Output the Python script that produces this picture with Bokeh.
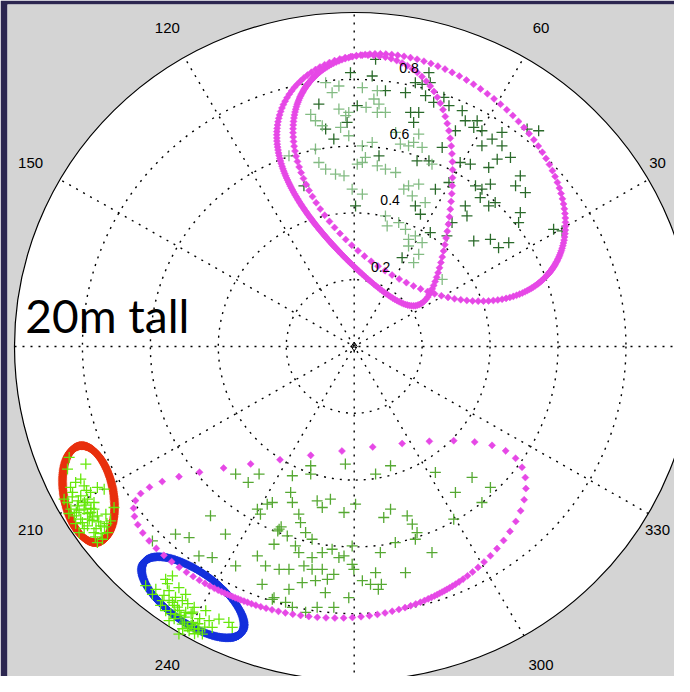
import numpy as np
from bokeh.plotting import figure
from bokeh.models import Range1d
from bokeh.embed import file_html
from bokeh.resources import INLINE
from bokeh.core.properties import value

# ---------------- data (unit-circle coordinates of the polar plot) ----------------
# top cluster, dark green crosses
dark_x = [0.063, -0.011, 0.053, 0.092, 0.151, 0.180, 0.200, 0.224, 0.220, 0.210, 0.234, 0.264, 0.279, 0.318,
          -0.104, 0.009, 0.166, 0.190, 0.175, 0.327, 0.362, 0.352, 0.376, 0.298, 0.406, 0.435, 0.376, 0.435,
          0.259, -0.084, -0.060, -0.021, 0.073, 0.185, 0.220, 0.312, 0.342, 0.421, 0.460, 0.396, 0.279, 0.239,
          -0.148, 0.004, 0.180, 0.195, 0.357, 0.401, 0.396, 0.415, 0.371, 0.475, 0.504, 0.489, 0.327, 0.332,
          0.489, 0.484, 0.224, 0.273, 0.352, 0.401, 0.425, 0.455, 0.587, 0.612, 0.141, 0.509, 0.543, 0.376, 0.288]
dark_y = [0.860, 0.820, 0.810, 0.766, 0.760, 0.790, 0.785, 0.790, 0.820, 0.751, 0.731, 0.746, 0.721, 0.706,
          0.726, 0.721, 0.701, 0.701, 0.671, 0.676, 0.676, 0.656, 0.646, 0.646, 0.621, 0.641, 0.601, 0.601,
          0.596, 0.651, 0.621, 0.671, 0.571, 0.556, 0.556, 0.551, 0.546, 0.561, 0.566, 0.536, 0.491, 0.471,
          0.481, 0.421, 0.421, 0.396, 0.481, 0.486, 0.421, 0.431, 0.446, 0.481, 0.461, 0.511, 0.421, 0.391,
          0.401, 0.371, 0.341, 0.331, 0.316, 0.321, 0.296, 0.311, 0.351, 0.346, 0.266, 0.651, 0.646, 0.471, 0.371]

# top cluster, light green crosses
light_x = [-0.084, -0.045, 0.024, 0.068, -0.128, -0.045, -0.016, 0.035, 0.068, 0.092, 0.058, 0.073, 0.190,
           0.175, 0.136, 0.160, 0.200, -0.016, -0.040, -0.114, -0.114, -0.104, -0.084, -0.055, -0.030, 0.024,
           0.053, 0.024, 0.068, 0.092, 0.122, 0.229, -0.006, 0.024, 0.160, 0.171, 0.209, 0.092, 0.097, 0.131,
           0.151, 0.160, 0.180, 0.200, 0.160, 0.175, 0.190, 0.259, -0.192, 0.009, 0.033, -0.094, -0.025, 0.146,
           0.190, 0.122, -0.065]
light_y = [0.790, 0.780, 0.775, 0.766, 0.695, 0.711, 0.701, 0.716, 0.701, 0.701, 0.741, 0.726, 0.636,
           0.611, 0.606, 0.601, 0.596, 0.631, 0.656, 0.676, 0.591, 0.551, 0.531, 0.516, 0.511, 0.601,
           0.611, 0.551, 0.541, 0.531, 0.521, 0.546, 0.471, 0.456, 0.481, 0.451, 0.431, 0.391, 0.361, 0.371,
           0.351, 0.321, 0.331, 0.311, 0.301, 0.251, 0.276, 0.201, 0.571, 0.546, 0.566, 0.661, 0.691, 0.471,
           0.486, 0.641, 0.760]

# lower cluster, green crosses
low_x = [-0.349, -0.312, -0.280, -0.423, -0.526, -0.486, -0.594, -0.379, -0.457, -0.418, -0.349, -0.285,
         -0.276, -0.256, -0.285, -0.271, -0.261, -0.241, -0.128, -0.182, -0.128, -0.026, 0.107, 0.063, 0.239,
         0.347, 0.401, 0.298, 0.376, 0.293, -0.187, -0.241, -0.182, -0.109, -0.070, -0.094, 0.004, -0.030,
         -0.163, -0.158, 0.107, 0.087, 0.156, 0.171, 0.185, 0.180, -0.221, -0.215, -0.225, -0.197, -0.236,
         -0.173, -0.143, -0.124, -0.163, -0.124, -0.094, -0.065, -0.045, -0.030, -0.006, -0.006, -0.001,
         0.077, 0.121, 0.229, 0.151, 0.063, 0.024, 0.048, 0.080, 0.071, -0.221, -0.192, -0.148, -0.124,
         -0.094, -0.079, -0.060, -0.153, -0.114, -0.192, -0.085, -0.016, -0.236, -0.202, -0.182, -0.060,
         -0.109, -0.143]
low_y = [-0.382, -0.407, -0.382, -0.507, -0.562, -0.572, -0.582, -0.562, -0.627, -0.632, -0.657, -0.487,
         -0.502, -0.472, -0.627, -0.712, -0.657, -0.757, -0.357, -0.387, -0.382, -0.352, -0.357, -0.382, -0.377,
         -0.392, -0.422, -0.437, -0.467, -0.517, -0.437, -0.467, -0.467, -0.462, -0.457, -0.482, -0.472, -0.497,
         -0.502, -0.527, -0.487, -0.512, -0.507, -0.532, -0.557, -0.577, -0.547, -0.540, -0.552, -0.567, -0.592,
         -0.597, -0.557, -0.577, -0.617, -0.632, -0.617, -0.607, -0.632, -0.627, -0.597, -0.652, -0.667,
         -0.617, -0.587, -0.617, -0.677, -0.677, -0.701, -0.712, -0.712, -0.727, -0.667, -0.667, -0.657, -0.667,
         -0.667, -0.697, -0.682, -0.707, -0.701, -0.727, -0.737, -0.752, -0.752, -0.766, -0.781, -0.781,
         -0.781, -0.796]

# lime crosses inside the red ellipse
redset_x = [-0.790, -0.839, -0.756, -0.736, -0.844, -0.820, -0.805, -0.829, -0.805, -0.785, -0.766, -0.844,
            -0.815, -0.795, -0.776, -0.824, -0.805, -0.756, -0.731, -0.717, -0.746, -0.785, -0.766, -0.726,
            -0.741, -0.834, -0.854, -0.810, -0.795, -0.776, -0.766, -0.707, -0.780, -0.756, -0.800, -0.818,
            -0.794, -0.835, -0.771, -0.788, -0.830, -0.812, -0.790, -0.770, -0.752, -0.735, -0.760, -0.795,
            -0.820, -0.840, -0.810, -0.785, -0.775, -0.762, -0.745, -0.728]
redset_y = [-0.352, -0.332, -0.422, -0.427, -0.367, -0.407, -0.397, -0.437, -0.447, -0.457, -0.467, -0.467,
            -0.477, -0.487, -0.497, -0.507, -0.517, -0.507, -0.502, -0.522, -0.537, -0.537, -0.557, -0.557,
            -0.577, -0.487, -0.457, -0.557, -0.417, -0.437, -0.487, -0.482, -0.517, -0.587, -0.527, -0.497,
            -0.467, -0.422, -0.521, -0.431, -0.450, -0.462, -0.475, -0.510, -0.525, -0.540, -0.545, -0.545,
            -0.530, -0.500, -0.490, -0.500, -0.485, -0.570, -0.560, -0.530]

# lime crosses inside the blue ellipse
blueset_x = [-0.614, -0.584, -0.555, -0.535, -0.545, -0.516, -0.565, -0.535, -0.506, -0.555, -0.526, -0.496,
             -0.471, -0.506, -0.476, -0.457, -0.486, -0.447, -0.427, -0.398, -0.369, -0.359, -0.418, -0.526,
             -0.496, -0.437, -0.516, -0.545, -0.594, -0.500, -0.480, -0.460, -0.520, -0.490, -0.540, -0.470,
             -0.440, -0.560, -0.545, -0.530, -0.515, -0.500, -0.490, -0.470, -0.455, -0.475, -0.510, -0.530,
             -0.505, -0.480, -0.460, -0.570, -0.550]
blueset_y = [-0.716, -0.727, -0.697, -0.687, -0.731, -0.722, -0.761, -0.766, -0.761, -0.791, -0.801, -0.796,
             -0.781, -0.831, -0.826, -0.846, -0.851, -0.861, -0.821, -0.816, -0.826, -0.841, -0.841, -0.751,
             -0.742, -0.791, -0.861, -0.821, -0.742, -0.810, -0.800, -0.830, -0.780, -0.770, -0.800, -0.860,
             -0.840, -0.745, -0.760, -0.775, -0.790, -0.825, -0.840, -0.845, -0.815, -0.795, -0.805, -0.815,
             -0.845, -0.835, -0.855, -0.775, -0.710]

# confidence ellipses: centre, semi-axes, orientation (deg), shape terms
ell_cx = [0.068, 0.221, -0.072, -0.782, -0.475]
ell_cy = [0.491, 0.506, -0.449, -0.442, -0.751]
ell_a = [0.386, 0.454, 0.579, 0.147, 0.178]
ell_b = [0.232, 0.303, 0.2475, 0.073, 0.076]
ell_angle = [-72.0, -39.0, 4.4, 100.5, -36.0]
ell_bend = [0.0, 0.0, 0.1175, 0.0, 0.0]
ell_egg = [-0.45, 0.0, 0.15, 0.0, 0.0]

angle_ticks = [30, 60, 120, 150, 210, 240, 300, 330]
radius_ticks = [0.2, 0.4, 0.6, 0.8]
spoke_angles = [0, 30, 60, 90, 120, 150]

# ---------------- styles ----------------
MAGENTA = "#e648e6"
ell_color = [MAGENTA, MAGENTA, MAGENTA, "#e8300e", "#1430dc"]
ell_size = [5, 5, 5, 6, 6]
ell_n = [200, 200, 98, 280, 300]
ell_k1 = [0.8, 0.0, 0.9, 0.0, 0.0]
ell_ph1 = [1.75, 0.0, np.pi / 2, 0.0, 0.0]
ell_k2 = [0.1, 0.75, 0.6, 0.0, 0.0]
ell_ph2 = [np.pi / 2, np.pi / 2, np.pi / 2, 0.0, 0.0]


def ellipse_outline(i):
    s = np.linspace(0, 2 * np.pi, ell_n[i], endpoint=False)
    t = s + ell_k1[i] * np.sin(s - ell_ph1[i]) + 0.5 * ell_k2[i] * np.sin(2 * (s - ell_ph2[i]))
    u = ell_a[i] * np.cos(t)
    v = ell_b[i] * np.sin(t) * (1 + ell_egg[i] * np.cos(t)) - ell_bend[i] * np.sin(t) ** 2
    th = np.radians(ell_angle[i])
    return (ell_cx[i] + u * np.cos(th) - v * np.sin(th),
            ell_cy[i] + u * np.sin(th) + v * np.cos(th))


XR = (-1.0206, 0.9429)
p = figure(width=674, height=676, output_backend="svg", toolbar_location=None,
           x_range=Range1d(*XR), y_range=Range1d(-0.9880, 1.0240),
           x_axis_location=None, y_axis_location=None,
           min_border_left=7, min_border_top=4, min_border_right=0, min_border_bottom=0,
           border_fill_color="#2c2650", background_fill_color="#d4d4d4", outline_line_color=None)
p.grid.visible = False

# polar disk
p.ellipse(x=[0], y=[0], width=[2], height=[2], fill_color="white", line_color="black", line_width=1.2)
# dotted rings and spokes
p.ellipse(x=[0] * 4, y=[0] * 4, width=[2 * r for r in radius_ticks], height=[2 * r for r in radius_ticks],
          fill_color=None, line_color="black", line_width=1.4, line_dash="2 6")
sa = np.radians(spoke_angles)
p.segment(x0=-np.cos(sa), y0=-np.sin(sa), x1=np.cos(sa), y1=np.sin(sa),
          line_color="black", line_width=1.4, line_dash="2 6")

# red and blue ellipses
for i in (3, 4):
    ex, ey = ellipse_outline(i)
    p.scatter(ex, ey, marker="square", angle=np.pi / 4, size=ell_size[i], fill_color=ell_color[i],
              line_color=ell_color[i], line_width=0.5)

cross = dict(marker="cross", size=11, line_width=1.3)
p.scatter(redset_x, redset_y, line_color="#66e80a", **cross)
p.scatter(blueset_x, blueset_y, line_color="#66e80a", **cross)
p.scatter(low_x, low_y, line_color="#55a832", **cross)
p.scatter(dark_x, dark_y, line_color="#2a6a2a", **cross)
p.scatter(light_x, light_y, line_color="#76b476", line_alpha=0.9, **cross)

# magenta ellipses
for i in (0, 1, 2):
    ex, ey = ellipse_outline(i)
    p.scatter(ex, ey, marker="square", angle=np.pi / 4, size=ell_size[i], fill_color=ell_color[i],
              line_color=ell_color[i], line_width=0.5)

# centre marker
p.scatter([0], [0], marker="diamond", size=9, fill_color=None, line_color="black", line_width=1)

# radial labels
c82, s82 = np.cos(np.radians(82)), np.sin(np.radians(82))
p.text(x=[(r + 0.01) * c82 + 0.02 for r in radius_ticks], y=[(r + 0.01) * s82 + 0.0165 for r in radius_ticks],
       text=[f"{r:.1f}" for r in radius_ticks], text_font=value("Liberation Sans"), text_font_size="14px",
       text_align="left", text_baseline="bottom", text_color="black")
# angle labels (kept inside the frame at the right edge)
aa = np.radians(angle_ticks)
lx = np.minimum(1.1 * np.cos(aa), XR[1] - 0.05)
p.text(x=lx, y=1.1 * np.sin(aa), text=[str(a) for a in angle_ticks],
       text_font=value("Liberation Sans"), text_font_size="15px",
       text_align="center", text_baseline="middle", text_color="black")

# annotation
p.text(x=[-0.968], y=[0.093], text=["20m tall"], text_font=value("Lato"), text_font_size="46px",
       text_align="left", text_baseline="alphabetic", text_color="black")

open("out.html", "w").write(file_html(p, INLINE))
